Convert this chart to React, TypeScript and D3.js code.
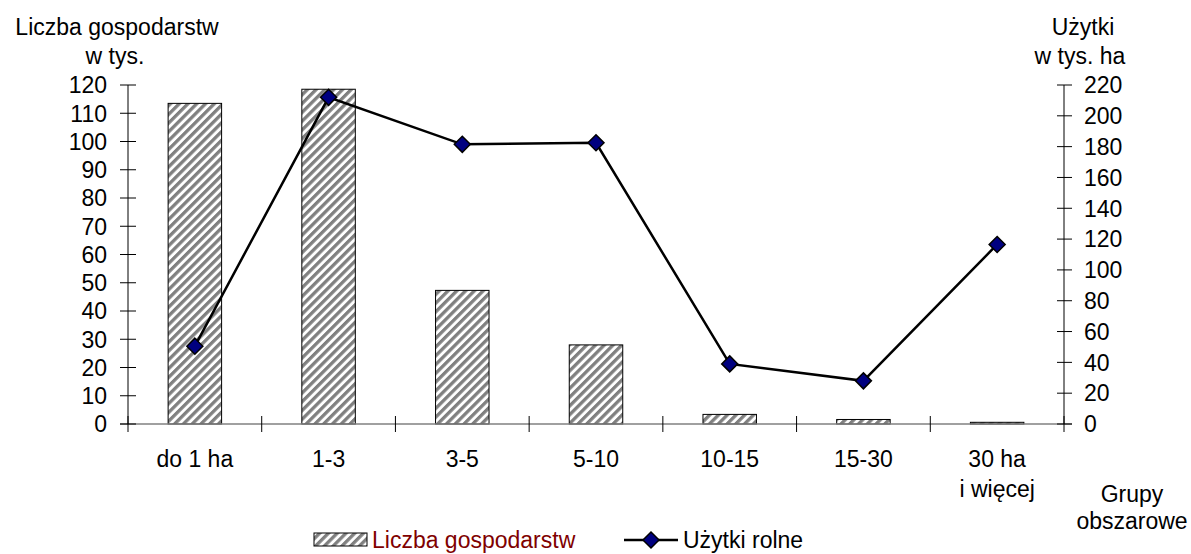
import { useEffect, useRef } from 'react';
import * as d3 from 'd3';

const categories = ['do 1 ha', '1-3', '3-5', '5-10', '10-15', '15-30', '30 ha\ni więcej'];
const farms = [113.5, 118.5, 47.3, 28, 3.4, 1.6, 0.6];
const land = [50.5, 212, 181.5, 182.5, 39, 28, 116.5];
const leftTicks = d3.range(0, 121, 10);
const rightTicks = d3.range(0, 221, 20);

const W = 1191;
const H = 554;
const FONT = '"Liberation Sans", Arial, sans-serif';

export default function App() {
  const svgRef = useRef<SVGSVGElement>(null);

  useEffect(() => {
    if (!svgRef.current) return;
    const svg = d3.select(svgRef.current);
    svg.selectAll('*').remove();

    const left = 128, right = 1064, top = 85, bottom = 424;

    const defs = svg.append('defs');
    const pat = defs.append('pattern')
      .attr('id', 'hatch')
      .attr('patternUnits', 'userSpaceOnUse')
      .attr('width', 6.2)
      .attr('height', 6.2)
      .attr('patternTransform', 'rotate(45)');
    pat.append('rect').attr('width', 6.2).attr('height', 6.2).attr('fill', '#fff');
    pat.append('rect').attr('width', 3.3).attr('height', 6.2).attr('fill', '#808080');

    const x = d3.scaleBand<string>().domain(categories).range([left, right]);
    const yL = d3.scaleLinear().domain([0, 120]).range([bottom, top]);
    const yR = d3.scaleLinear().domain([0, 220]).range([bottom, top]);
    const barW = x.bandwidth() * 0.4;
    const cx = (c: string) => (x(c) ?? 0) + x.bandwidth() / 2;

    const g = svg.append('g').style('font-family', FONT).style('font-size', '23px');

    // bars
    g.selectAll('.bar')
      .data(categories)
      .enter().append('rect')
      .attr('x', d => cx(d) - barW / 2)
      .attr('y', (d, i) => yL(farms[i]))
      .attr('width', barW)
      .attr('height', (d, i) => bottom - yL(farms[i]))
      .attr('fill', 'url(#hatch)')
      .attr('stroke', '#000')
      .attr('stroke-width', 1);

    // x axis
    g.append('line')
      .attr('x1', left - 8).attr('x2', right + 8)
      .attr('y1', bottom).attr('y2', bottom)
      .attr('stroke', '#808080').attr('stroke-width', 1.5);
    const xt = [left, ...categories.map(c => (x(c) ?? 0) + x.bandwidth())];
    g.selectAll('.xt').data(xt).enter().append('line')
      .attr('x1', d => d).attr('x2', d => d)
      .attr('y1', bottom - 8).attr('y2', bottom + 8)
      .attr('stroke', '#000').attr('stroke-width', 1);

    // left axis
    g.append('line').attr('x1', left).attr('x2', left).attr('y1', top).attr('y2', bottom)
      .attr('stroke', '#000');
    leftTicks.forEach(t => {
      g.append('line').attr('x1', left - 8).attr('x2', left + 8)
        .attr('y1', yL(t)).attr('y2', yL(t)).attr('stroke', '#000');
      g.append('text').attr('x', left - 21).attr('y', yL(t)).attr('dy', '0.36em')
        .attr('text-anchor', 'end').text(t);
    });

    // right axis
    g.append('line').attr('x1', right).attr('x2', right).attr('y1', top).attr('y2', bottom)
      .attr('stroke', '#000');
    rightTicks.forEach(t => {
      g.append('line').attr('x1', right - 7).attr('x2', right + 8)
        .attr('y1', yR(t)).attr('y2', yR(t)).attr('stroke', '#000');
      g.append('text').attr('x', right + 20).attr('y', yR(t)).attr('dy', '0.36em')
        .attr('text-anchor', 'start').text(t);
    });

    // category labels
    categories.forEach(c => {
      c.split('\n').forEach((line, j) => {
        g.append('text').attr('x', cx(c)).attr('y', 467 + j * 30)
          .attr('text-anchor', 'middle').text(line);
      });
    });

    // line series
    const lineGen = d3.line<number>()
      .x((d, i) => cx(categories[i]))
      .y(d => yR(d));
    g.append('path').datum(land)
      .attr('d', lineGen)
      .attr('fill', 'none').attr('stroke', '#000').attr('stroke-width', 2.5);
    const diamond = (px: number, py: number, s = 8) =>
      `M${px},${py - s}L${px + s},${py}L${px},${py + s}L${px - s},${py}Z`;
    g.selectAll('.pt').data(land).enter().append('path')
      .attr('d', (d, i) => diamond(cx(categories[i]), yR(d)))
      .attr('fill', '#000080').attr('stroke', '#000').attr('stroke-width', 1.5);

    // axis titles
    g.append('text').attr('x', 117).attr('y', 35).attr('text-anchor', 'middle').text('Liczba gospodarstw');
    g.append('text').attr('x', 115).attr('y', 64).attr('text-anchor', 'middle').text('w tys.');
    g.append('text').attr('x', 1083).attr('y', 35).attr('text-anchor', 'middle').text('Użytki');
    g.append('text').attr('x', 1080).attr('y', 64).attr('text-anchor', 'middle').text('w tys. ha');
    g.append('text').attr('x', 1132).attr('y', 502).attr('text-anchor', 'middle').text('Grupy');
    g.append('text').attr('x', 1132).attr('y', 529).attr('text-anchor', 'middle').text('obszarowe');

    // legend
    g.append('rect').attr('x', 314).attr('y', 533).attr('width', 53).attr('height', 13)
      .attr('fill', 'url(#hatch)').attr('stroke', '#000').attr('stroke-width', 1);
    g.append('text').attr('x', 372).attr('y', 548).attr('fill', '#800000').text('Liczba gospodarstw');
    g.append('line').attr('x1', 624).attr('x2', 678).attr('y1', 540).attr('y2', 540)
      .attr('stroke', '#000').attr('stroke-width', 2.5);
    g.append('path').attr('d', diamond(651, 540))
      .attr('fill', '#000080').attr('stroke', '#000').attr('stroke-width', 1.5);
    g.append('text').attr('x', 683).attr('y', 548).text('Użytki rolne');
  }, []);

  return (
    <svg ref={svgRef} width={W} height={H}
      style={{ position: 'absolute', left: 0, top: 0, background: '#fff' }} />
  );
}
